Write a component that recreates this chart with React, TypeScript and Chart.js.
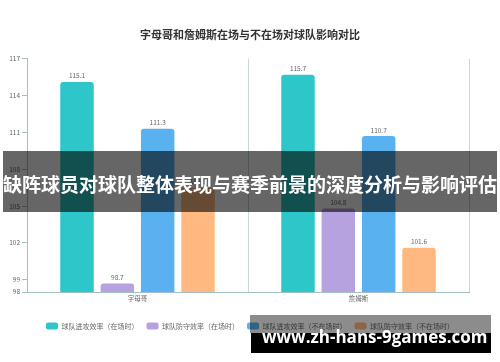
import React, { useEffect, useRef } from "react";
import { Chart, registerables } from "chart.js";

Chart.register(...registerables);

const title = "字母哥和詹姆斯在场与不在场对球队影响对比";
const categories = ["字母哥", "詹姆斯"];
const seriesNames = [
  "球队进攻效率（在场时）",
  "球队防守效率（在场时）",
  "球队进攻效率（不在场时）",
  "球队防守效率（不在场时）",
];
const offenseOn = [115.1, 115.7];
const defenseOn = [98.7, 104.8];
const offenseOff = [111.3, 110.7];
const defenseOff = [106.5, 101.6];
const seriesColors = ["#2ec7c9", "#b6a2de", "#5ab1ef", "#ffb980"];
const yMin = 98;
const yMax = 117;
const yStep = 3;
const bannerText = "缺阵球员对球队整体表现与赛季前景的深度分析与影响评估";
const watermarkText = "www.zh-hans-9games.com";

const FONT = "'Noto Sans CJK SC', 'Noto Sans', sans-serif";

const valueLabels = {
  id: "valueLabels",
  afterDatasetsDraw(chart: any) {
    const ctx = chart.ctx;
    ctx.save();
    ctx.font = `6.5px ${FONT}`;
    ctx.fillStyle = "#666";
    ctx.textAlign = "center";
    ctx.textBaseline = "middle";
    chart.data.datasets.forEach((ds: any, i: number) => {
      const meta = chart.getDatasetMeta(i);
      meta.data.forEach((bar: any, j: number) => {
        ctx.fillText(String(ds.data[j]), bar.x, bar.y - 6);
      });
    });
    ctx.restore();
  },
};

export default function App() {
  const ref = useRef<HTMLCanvasElement>(null);

  useEffect(() => {
    if (!ref.current) return;
    const allSeries = [offenseOn, defenseOn, offenseOff, defenseOff];
    const chart = new Chart(ref.current, {
      type: "bar",
      data: {
        labels: categories,
        datasets: allSeries.map((d, i) => ({
          label: seriesNames[i],
          data: d,
          backgroundColor: seriesColors[i],
          borderRadius: 3,
          categoryPercentage: 0.73,
          barPercentage: 0.83,
        })),
      },
      options: {
        responsive: false,
        animation: false,
        layout: { padding: { top: 0, left: 0, right: 0, bottom: 22.5 } },
        plugins: {
          title: {
            display: true,
            text: title,
            color: "#333",
            font: { size: 11, weight: "bold", family: FONT },
            padding: { top: 28.4, bottom: 17.1 },
          },
          legend: {
            position: "bottom",
            labels: {
              boxWidth: 12,
              boxHeight: 7,
              padding: 8,
              color: "#666",
              useBorderRadius: true,
              borderRadius: 2,
              font: { size: 7, family: FONT },
            },
          },
          tooltip: { enabled: false },
        },
        scales: {
          x: {
            grid: { display: true, drawTicks: false, color: "#c9d8db" },
            border: { color: "#a3c0c4" },
            ticks: { color: "#666", padding: 3, font: { size: 6.5, family: FONT } },
            afterFit: (s: any) => {
              s.height = 22.5;
            },
          },
          y: {
            min: yMin,
            max: yMax,
            ticks: {
              stepSize: yStep,
              color: "#666",
              padding: 2,
              font: { size: 6.5, family: FONT },
            },
            grid: { drawOnChartArea: false, drawTicks: true, tickLength: 5, color: "#a3c0c4" },
            border: { color: "#a3c0c4" },
            afterFit: (s: any) => {
              s.width = 27;
            },
          },
          yr: {
            position: "right",
            display: true,
            ticks: { display: false },
            grid: { display: false },
            border: { display: false },
            afterFit: (s: any) => {
              s.width = 31;
            },
          },
        },
      } as any,
      plugins: [valueLabels],
    });
    return () => chart.destroy();
  }, []);

  return (
    <div
      style={{
        position: "fixed",
        left: 0,
        top: 0,
        width: 500,
        height: 362,
        background: "#fff",
        overflow: "hidden",
      }}
    >
      <canvas ref={ref} width={500} height={362} style={{ display: "block" }} />
      <div
        style={{
          position: "absolute",
          left: 3,
          top: 151,
          width: 494,
          height: 61,
          background: "rgba(0,0,0,0.6)",
          color: "#fff",
          fontFamily: FONT,
          fontWeight: "bold",
          fontSize: 19,
          lineHeight: "61px",
          textAlign: "center",
          whiteSpace: "nowrap",
          paddingTop: 2,
          boxSizing: "border-box",
        }}
      >
        {bannerText}
      </div>
      <div
        style={{
          position: "absolute",
          left: 250,
          top: 315,
          width: 241,
          height: 18,
          background: "rgba(0,0,0,0.45)",
        }}
      />
      <div
        style={{
          position: "absolute",
          left: 251,
          top: 333,
          width: 240,
          height: 20,
          background: "#000",
        }}
      />
      <div
        style={{
          position: "absolute",
          left: 262,
          top: 328,
          color: "#fff",
          fontFamily: "'Open Sans', sans-serif",
          fontWeight: "bold",
          fontSize: 17,
          lineHeight: "17px",
          whiteSpace: "nowrap",
        }}
      >
        {watermarkText}
      </div>
    </div>
  );
}
